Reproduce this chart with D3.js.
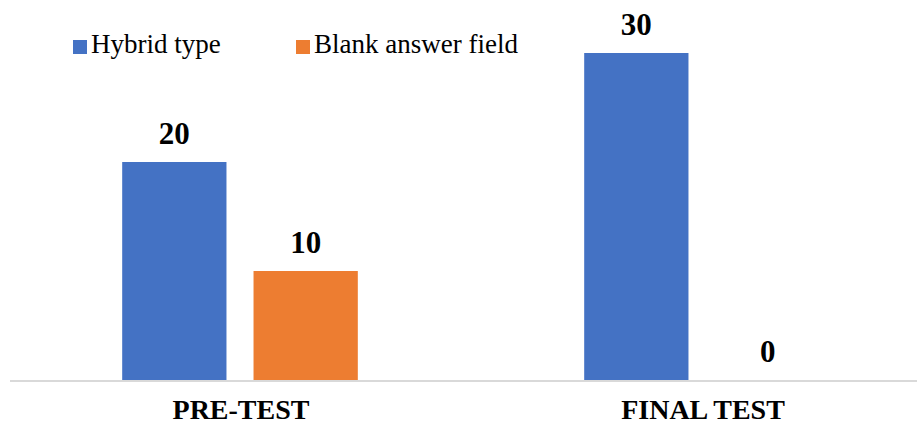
<!DOCTYPE html>
<html>
<head>
<meta charset="utf-8">
<script src="https://cdn.jsdelivr.net/npm/d3@7"></script>
</head>
<body style="margin:0">
<svg id="s" width="917" height="423"></svg>
<script>
// Test results per phase
const categories = ["PRE-TEST", "FINAL TEST"];
const seriesNames = ["Hybrid type", "Blank answer field"];
const hybridValues = [20, 30];
const blankValues = [10, 0];
const seriesColors = ["#4472C4", "#ED7D31"];

const FONT = '"Liberation Serif"';
const W = 917, H = 423;
const baseY = 380;
const svg = d3.select("#s");

const rows = categories.map((c, i) => ({
  category: c,
  values: [
    { series: seriesNames[0], value: hybridValues[i] },
    { series: seriesNames[1], value: blankValues[i] }
  ]
}));
// flat list of bar records for the marks and their labels
const bars = rows.flatMap(r => r.values.map(v => ({ category: r.category, ...v })));

const x0 = d3.scaleBand()
  .domain(categories)
  .range([9, 933])
  .paddingInner(0.49)
  .paddingOuter(0.245);

const x1 = d3.scaleBand()
  .domain(seriesNames)
  .range([0, x0.bandwidth()])
  .paddingInner(0.206)
  .paddingOuter(0);

const y = d3.scaleLinear()
  .domain([0, 30])
  .range([baseY, 53]);

const color = d3.scaleOrdinal().domain(seriesNames).range(seriesColors);
const barX = d => x0(d.category) + x1(d.series);

// baseline
svg.append("line")
  .attr("x1", 10).attr("x2", W)
  .attr("y1", baseY + 1).attr("y2", baseY + 1)
  .attr("stroke", "#d9d9d9")
  .attr("stroke-width", 2);

// bars
svg.selectAll("rect.bar")
  .data(bars)
  .join("rect")
  .attr("class", "bar")
  .attr("x", barX)
  .attr("y", d => y(d.value))
  .attr("width", x1.bandwidth())
  .attr("height", d => baseY - y(d.value))
  .attr("fill", d => color(d.series));

// value labels
svg.selectAll("text.value")
  .data(bars)
  .join("text")
  .attr("class", "value")
  .attr("x", d => barX(d) + x1.bandwidth() / 2)
  .attr("y", d => y(d.value) - 18)
  .attr("text-anchor", "middle")
  .attr("fill", "#000")
  .attr("font-weight", "bold")
  .attr("font-size", 31)
  .style("font-family", FONT)
  .text(d => d.value);

// category labels
svg.selectAll("text.category")
  .data(categories)
  .join("text")
  .attr("class", "category")
  .attr("x", d => x0(d) + x0.bandwidth() / 2 + 1)
  .attr("y", baseY + 38.5)
  .attr("text-anchor", "middle")
  .attr("fill", "#000")
  .attr("font-weight", "bold")
  .attr("font-size", 28)
  .style("font-family", FONT)
  .text(d => d);

// legend
const legendX = [73, 296];
svg.selectAll("rect.swatch")
  .data(seriesNames)
  .join("rect")
  .attr("class", "swatch")
  .attr("x", (d, i) => legendX[i])
  .attr("y", 40)
  .attr("width", 14).attr("height", 14)
  .attr("fill", d => color(d));
svg.selectAll("text.legend")
  .data(seriesNames)
  .join("text")
  .attr("class", "legend")
  .attr("x", (d, i) => legendX[i] + 18)
  .attr("y", 53)
  .attr("fill", "#000")
  .attr("font-size", 27)
  .style("font-family", FONT)
  .text(d => d);
</script>
</body>
</html>
